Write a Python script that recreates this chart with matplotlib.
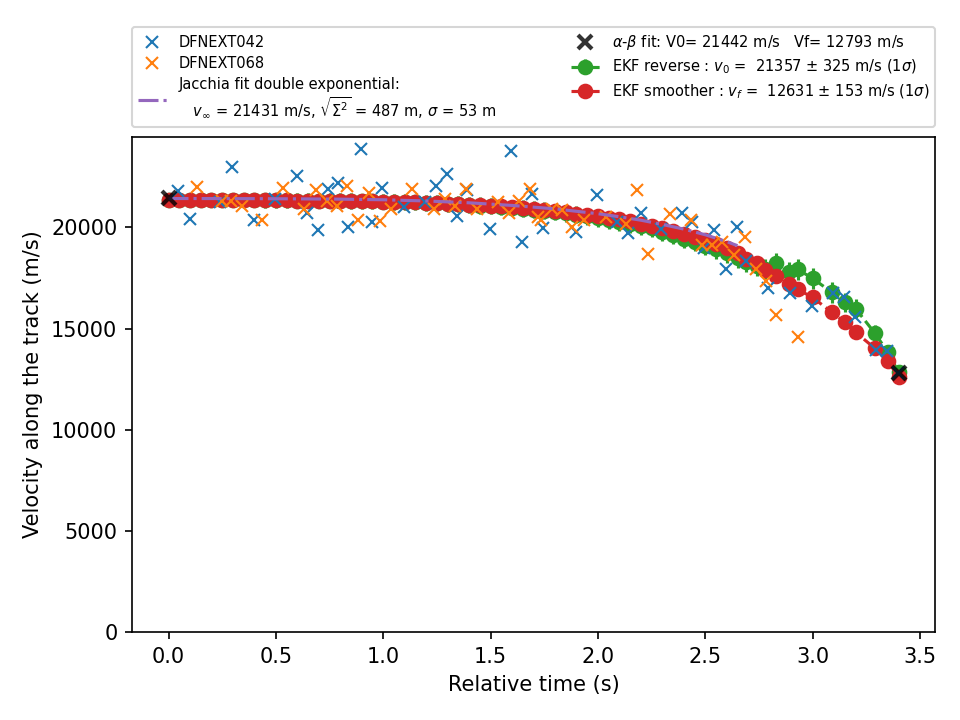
import matplotlib
matplotlib.use("Agg")
import matplotlib.pyplot as plt

# DFNEXT042 observations
t_042 = [0.042, 0.098, 0.242, 0.298, 0.400, 0.498, 0.600, 0.647, 0.698, 0.745, 0.791, 0.838,
         0.898, 0.949, 0.996, 1.098, 1.196, 1.247, 1.298, 1.345, 1.391, 1.498, 1.596, 1.647,
         1.694, 1.745, 1.899, 1.996, 2.089, 2.140, 2.200, 2.294, 2.392, 2.438, 2.494, 2.541,
         2.597, 2.648, 2.690, 2.792, 2.894, 2.997, 3.094, 3.146, 3.197, 3.295, 3.346, 3.397]
v_042 = [21827, 20395, 21235, 23012, 20346, 21432, 22568, 20691, 19852, 21926, 22222, 20000,
         23901, 20247, 21975, 20988, 21235, 22074, 22667, 20543, 21877, 19901, 23802, 19259,
         21679, 19951, 19753, 21630, 20247, 19704, 20691, 19901, 20691, 20247, 18963, 19852,
         17926, 20000, 18321, 16988, 16741, 16099, 16741, 16543, 15556, 13926, 13877, 12790]

# DFNEXT068 observations
t_068 = [0.135, 0.247, 0.293, 0.340, 0.437, 0.535, 0.633, 0.689, 0.740, 0.786, 0.833, 0.884,
         0.935, 0.987, 1.038, 1.135, 1.238, 1.289, 1.336, 1.387, 1.438, 1.536, 1.587, 1.633,
         1.684, 1.722, 1.736, 1.787, 1.833, 1.880, 1.936, 2.038, 2.131, 2.182, 2.234, 2.336,
         2.434, 2.485, 2.531, 2.578, 2.634, 2.685, 2.736, 2.783, 2.829, 2.932]
v_068 = [22025, 21333, 21333, 21086, 20346, 21975, 20889, 21877, 21333, 21037, 22074, 20346,
         21728, 20296, 20938, 21926, 20938, 21432, 21086, 21926, 20938, 21235, 20691, 21333,
         21926, 20494, 20346, 20889, 20840, 20000, 20346, 20494, 20148, 21877, 18667, 20642,
         20346, 19111, 19111, 19259, 18617, 19506, 17926, 17333, 15654, 14568]

# Jacchia double exponential fit
t_jac = [0.0, 0.2, 0.4, 0.6, 0.8, 1.0, 1.2, 1.4, 1.6, 1.8, 2.0, 2.1, 2.2, 2.3, 2.4, 2.5, 2.6, 2.65]
v_jac = [21431, 21430, 21425, 21415, 21400, 21370, 21310, 21220, 21090, 20920, 20680, 20530,
         20360, 20150, 19920, 19640, 19300, 19100]

# alpha-beta fit
t_ab = [0.0, 3.4]
v_ab = [21442, 12793]

# EKF times
t_ekf = [0.00, 0.05, 0.10, 0.15, 0.20, 0.25, 0.30, 0.35, 0.40, 0.45, 0.50, 0.55, 0.60, 0.65,
         0.70, 0.75, 0.80, 0.85, 0.90, 0.95, 1.00, 1.05, 1.10, 1.15, 1.20, 1.25, 1.30, 1.35,
         1.40, 1.45, 1.50, 1.55, 1.60, 1.65, 1.70, 1.75, 1.80, 1.85, 1.90, 1.95, 2.00, 2.05,
         2.10, 2.15, 2.20, 2.25, 2.30, 2.35, 2.40, 2.45, 2.50, 2.55, 2.60, 2.65, 2.69, 2.74,
         2.78, 2.83, 2.89, 2.93, 3.00, 3.09, 3.15, 3.20, 3.29, 3.35, 3.40]

# EKF reverse
v_rev = [21357, 21370, 21365, 21360, 21355, 21350, 21350, 21345, 21345, 21340, 21340, 21335,
         21330, 21330, 21325, 21320, 21315, 21310, 21300, 21290, 21280, 21265, 21250, 21235,
         21215, 21195, 21170, 21145, 21115, 21085, 21050, 21010, 20970, 20925, 20875, 20825,
         20765, 20700, 20630, 20555, 20470, 20380, 20285, 20175, 20060, 19950, 19800, 19620,
         19450, 19280, 19100, 18920, 18720, 18480, 18300, 18100, 17930, 18220, 17780, 17930,
         17480, 16790, 16300, 15990, 14770, 13830, 12840]
e_rev = [325, 330, 335, 340, 340, 345, 345, 350, 350, 355, 355, 360, 360, 365, 365, 370,
         370, 375, 375, 380, 380, 385, 385, 390, 390, 395, 395, 400, 400, 405, 405, 410,
         410, 415, 415, 420, 420, 425, 425, 430, 430, 435, 435, 440, 440, 445, 450, 455,
         460, 465, 470, 475, 480, 485, 490, 495, 500, 520, 520, 520, 520, 500, 480, 460,
         420, 380, 340]

# EKF smoother
v_smo = [21380, 21370, 21360, 21360, 21355, 21350, 21350, 21345, 21345, 21340, 21340, 21335,
         21330, 21330, 21325, 21320, 21315, 21310, 21300, 21290, 21280, 21270, 21255, 21240,
         21225, 21205, 21185, 21160, 21135, 21105, 21075, 21040, 21000, 20960, 20915, 20865,
         20810, 20750, 20685, 20615, 20560, 20480, 20395, 20300, 20195, 20080, 19960, 19835,
         19700, 19550, 19380, 19200, 19000, 18720, 18420, 18220, 17880, 17580, 17230, 16940,
         16540, 15800, 15310, 14815, 14025, 13380, 12631]
e_smo = [150, 150, 150, 150, 150, 150, 150, 150, 150, 150, 150, 150, 150, 150, 150, 150,
         150, 150, 150, 150, 150, 150, 150, 150, 150, 150, 150, 150, 150, 150, 150, 150,
         150, 150, 150, 150, 150, 150, 150, 150, 150, 150, 150, 150, 150, 150, 150, 150,
         150, 150, 150, 150, 150, 150, 150, 150, 150, 150, 150, 150, 150, 150, 150, 150,
         150, 150, 153]

fig = plt.figure(figsize=(6.4, 4.8), dpi=150)
ax = fig.add_axes([0.1375, 0.1222, 0.8365, 0.6875])

ax.errorbar(t_ekf, v_rev, yerr=e_rev, fmt='o--', color='tab:green', ms=6.5, lw=1.5,
            label=r"EKF reverse : $v_0$ =  21357 $\pm$ 325 m/s (1$\sigma$)")
ax.errorbar(t_ekf, v_smo, yerr=e_smo, fmt='o--', color='tab:red', ms=6.5, lw=1.5,
            label=r"EKF smoother : $v_f$ =  12631 $\pm$ 153 m/s (1$\sigma$)")
ax.plot(t_042, v_042, 'x', color='tab:blue', ms=6, zorder=3, label='DFNEXT042')
ax.plot(t_068, v_068, 'x', color='tab:orange', ms=6, zorder=3, label='DFNEXT068')
ax.plot(t_jac, v_jac, '-.', color='tab:purple', lw=1.5, zorder=3.5,
        label="Jacchia fit double exponential:\n   $v_{\\infty}$ = 21431 m/s, $\\sqrt{\\Sigma^2}$ = 487 m, $\\sigma$ = 53 m")
ax.plot(t_ab, v_ab, 'x', color='k', alpha=0.8, ms=7, mew=2, zorder=4,
        label=r"$\alpha$-$\beta$ fit: V0= 21442 m/s   Vf= 12793 m/s")

ax.set_ylim(bottom=0)
ax.set_xlabel('Relative time (s)')
ax.set_ylabel('Velocity along the track (m/s)')

ax.legend(bbox_to_anchor=(0, 1.02, 1, 0.2), loc='lower left', mode='expand', ncol=2,
          fontsize=7, borderaxespad=0, labelspacing=0.4)

fig.savefig('out.png', dpi=150)
